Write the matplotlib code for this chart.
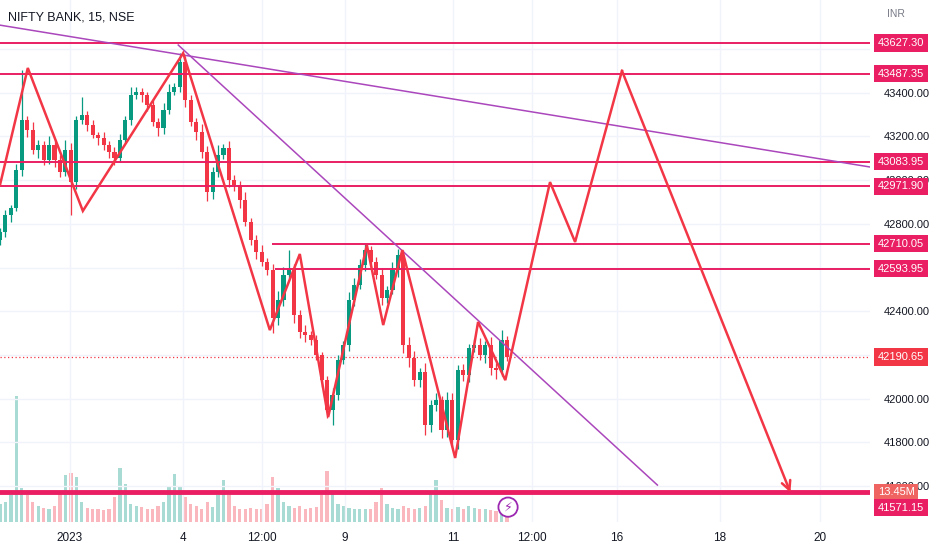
#!/usr/bin/env python3
"""NIFTY BANK 15m chart with zigzag projection, trendlines and levels (TradingView style)."""

import matplotlib

matplotlib.use("Agg")
import matplotlib.pyplot as plt
import matplotlib.transforms as mtrans
import numpy as np

TITLE = "NIFTY BANK, 15, NSE"

# candles (one entry per bar, left to right)
FIRST_OPEN = 42726
CLOSES = [
    42762, 42840, 42872, 43046, 43275, 43229, 43138, 43160, 43092, 43160,
    43092, 43037, 43138, 42991, 43275, 43298, 43252, 43206, 43192, 43160,
    43128, 43101, 43183, 43275, 43389, 43403, 43389, 43343, 43266, 43238,
    43321, 43403, 43426, 43540, 43366, 43266, 43220, 43128, 42945, 43037,
    43115, 43147, 43000, 42977, 42909, 42808, 42726, 42671, 42625, 42589,
    42369, 42451, 42566, 42598, 42383, 42305, 42291, 42268, 42200, 42085,
    41948, 42017, 42177, 42246, 42451, 42520, 42612, 42680, 42625, 42566,
    42461, 42497, 42589, 42657, 42246, 42186, 42085, 42122, 41880, 41971,
    41994, 41857, 41994, 41811, 42131, 42108, 42232, 42246, 42200, 42246,
    42140, 42131, 42268, 42190.65,
]
WICK_UP = [
    20, 25, 15, 30, 229, 20, 35, 25, 20, 40,
    30, 25, 45, 30, 20, 82, 20, 25, 15, 30,
    20, 25, 30, 20, 35, 25, 20, 15, 25, 20,
    30, 35, 20, 41, 30, 25, 20, 35, 30, 25,
    45, 20, 30, 25, 20, 35, 20, 25, 30, 20,
    25, 40, 35, 82, 20, 25, 30, 20, 25, 15,
    20, 30, 25, 20, 35, 30, 25, 30, 20, 25,
    30, 20, 35, 30, 25, 35, 30, 20, 40, 25,
    30, 20, 35, 30, 25, 30, 20, 25, 30, 20,
    35, 25, 46, 20,
]
WICK_DN = [
    25, 20, 30, 15, 25, 30, 20, 35, 25, 20,
    30, 25, 20, 151, 30, 20, 25, 15, 30, 20,
    25, 30, 20, 15, 25, 20, 30, 25, 20, 35,
    25, 20, 15, 25, 30, 20, 35, 25, 40, 30,
    25, 20, 30, 25, 35, 20, 25, 30, 20, 25,
    69, 30, 25, 20, 35, 25, 30, 20, 25, 30,
    36, 68, 25, 20, 30, 25, 20, 30, 25, 20,
    30, 25, 20, 30, 35, 40, 25, 30, 45, 30,
    25, 35, 30, 32, 40, 25, 30, 20, 25, 35,
    30, 40, 25, 20,
]
VOLUME_M = [
    20, 22, 30, 140, 38, 30, 22, 18, 16, 15,
    18, 32, 52, 55, 50, 22, 16, 15, 14, 13,
    15, 28, 60, 42, 20, 18, 17, 15, 14, 18,
    22, 40, 53, 40, 28, 20, 18, 15, 22, 17,
    30, 47, 30, 18, 15, 14, 16, 15, 14, 20,
    50, 38, 22, 18, 16, 18, 15, 16, 17, 30,
    57, 32, 20, 18, 16, 15, 14, 15, 14, 22,
    38, 20, 16, 15, 18, 16, 15, 16, 18, 32,
    47, 25, 16, 15, 17, 14, 18, 16, 15, 14,
    13, 12, 13, 13.45,
]

# drawings: bar position / price
ZIGZAG_X = [0, 5.1, 15.2, 33.6, 49.5, 55.0, 60.2, 67.3, 70.3, 73.8, 83.5, 87.7, 92.7,
            100.9, 105.5, 114.1]
ZIGZAG_P = [42978, 43513, 42859, 43581, 42314, 42662, 41916, 42703, 42337, 42680, 41729,
            42351, 42085, 42991, 42717, 43500]
ARROW_END = (145.0, 41571)
TREND_LONG = ([0, 159.6], [43709, 43060])
TREND_SHORT = ([32.7, 120.6], [43618, 41605])

LEVELS = [43627.30, 43487.35, 43083.95, 42971.90, 42710.05, 42593.95]
LEVEL_START = [0, 0, 0, 0, 49.9, 50.5]
SUPPORT = 41571.15
LAST_PRICE = 42190.65
LAST_VOLUME = "13.45M"

# scale labels left visible next to the level tags
PRICE_TICKS = [41600, 41800, 42000, 42400, 42800, 43000, 43200, 43400]
GRID_PRICES = [41600, 41800, 42000, 42200, 42400, 42600, 42800, 43000, 43200, 43400, 43600]
DATE_TICK_POS = [12.8, 33.6, 48.1, 63.3, 83.1, 97.6, 113.2, 132.1, 150.5]
DATE_TICK_LABELS = ["2023", "4", "12:00", "9", "11", "12:00", "16", "18", "20"]

UP = "#089981"
DOWN = "#f23645"
LEVEL_COLOR = "#e91e63"
PURPLE = "#ab47bc"
TEXT = "#131722"
GRID = "#f0f3fa"


def main() -> None:
    plt.rcParams["font.family"] = ["Liberation Sans", "DejaVu Sans"]
    fig = plt.figure(figsize=(9.32, 5.5), dpi=100)
    ax = fig.add_axes([0, 28 / 550, 870 / 932, 522 / 550])

    closes = np.array(CLOSES, dtype=float)
    opens = np.r_[FIRST_OPEN, closes[:-1]]
    highs = np.maximum(opens, closes) + np.array(WICK_UP)
    lows = np.minimum(opens, closes) - np.array(WICK_DN)
    x = np.arange(len(closes))
    up = closes >= opens
    colors = np.where(up, UP, DOWN)

    ax.set_xlim(0, 159.6)
    ax.set_ylim(41436, 43824)

    # volume overlay
    axv = ax.twinx()
    axv.set_ylim(0, 582)
    axv.bar(x, VOLUME_M, width=0.6, color=colors, alpha=0.35, linewidth=0)
    axv.axis("off")
    ax.set_zorder(axv.get_zorder() + 1)
    ax.patch.set_visible(False)
    fig.patch.set_facecolor("white")

    # grid
    for t in DATE_TICK_POS:
        ax.axvline(t, color=GRID, lw=1, zorder=0)
    for p in GRID_PRICES:
        ax.axhline(p, color=GRID, lw=1, zorder=0)

    # candles
    ax.vlines(x, lows, highs, colors=colors, lw=0.9, zorder=3)
    body = np.maximum(np.abs(closes - opens), 6)
    ax.bar(x, body, bottom=np.minimum(opens, closes), width=0.75, color=colors,
           linewidth=0, zorder=3)

    # horizontal levels
    for lvl, start in zip(LEVELS, LEVEL_START):
        ax.hlines(lvl, start, 159.6, color=LEVEL_COLOR, lw=1.4, zorder=4)
    ax.axhline(SUPPORT, color=LEVEL_COLOR, lw=3.5, zorder=4)
    ax.axhline(LAST_PRICE, color=DOWN, lw=0.9, ls=(0, (1, 2)), zorder=2)

    # trendlines
    ax.plot(*TREND_LONG, color=PURPLE, lw=1.1, zorder=4)
    ax.plot(*TREND_SHORT, color=PURPLE, lw=1.1, zorder=4)

    # zigzag projection
    ax.plot(ZIGZAG_X, ZIGZAG_P, color=DOWN, lw=1.8, zorder=5, solid_joinstyle="miter")
    ax.annotate("", xy=ARROW_END, xytext=(ZIGZAG_X[-1], ZIGZAG_P[-1]),
                arrowprops=dict(arrowstyle="->", color=DOWN, lw=1.8, mutation_scale=16,
                                shrinkA=0, shrinkB=0), zorder=5)

    # lightning badge
    ax.text(93.2, 41504, "\u26a1", ha="center", va="center", fontsize=9, color="#9c27b0",
            family=["DejaVu Sans"], zorder=6,
            bbox=dict(boxstyle="circle,pad=0.25", fc="white", ec="#9c27b0", lw=1.3))

    # axes styling
    for s in ax.spines.values():
        s.set_visible(False)
    ax.yaxis.tick_right()
    ax.set_yticks(PRICE_TICKS)
    ax.set_yticklabels([f"{p:.2f}" for p in PRICE_TICKS])
    ax.tick_params(axis="y", length=0, pad=10, labelsize=8, labelcolor=TEXT)
    ax.set_xticks(DATE_TICK_POS)
    ax.set_xticklabels(DATE_TICK_LABELS)
    ax.tick_params(axis="x", length=0, pad=7, labelsize=8.5, labelcolor=TEXT)

    # price labels on the scale
    tr = mtrans.blended_transform_factory(ax.transAxes, ax.transData)
    lx = 1 + 8 / 870

    def tag(price, text, color, dy=0):
        ax.annotate(text, xy=(lx, price), xycoords=tr, xytext=(0, dy),
                    textcoords="offset points", ha="left", va="center", fontsize=8,
                    color="white", zorder=10, annotation_clip=False,
                    bbox=dict(boxstyle="square,pad=0.32", fc=color, ec="none"))

    for lvl in LEVELS:
        tag(lvl, f"{lvl:.2f}", LEVEL_COLOR)
    tag(LAST_PRICE, f"{LAST_PRICE:.2f}", DOWN)
    tag(SUPPORT, LAST_VOLUME, "#ef6461")
    tag(SUPPORT, f"{SUPPORT:.2f}", LEVEL_COLOR, dy=-11)

    fig.text(8 / 932, 1 - 17 / 550, TITLE, fontsize=9, color=TEXT, va="center")
    fig.text(887 / 932, 1 - 14 / 550, "INR", fontsize=7.5, color="#787b86", va="center")

    fig.savefig("out.png", dpi=100, facecolor="white")
    plt.close(fig)


if __name__ == "__main__":
    main()
